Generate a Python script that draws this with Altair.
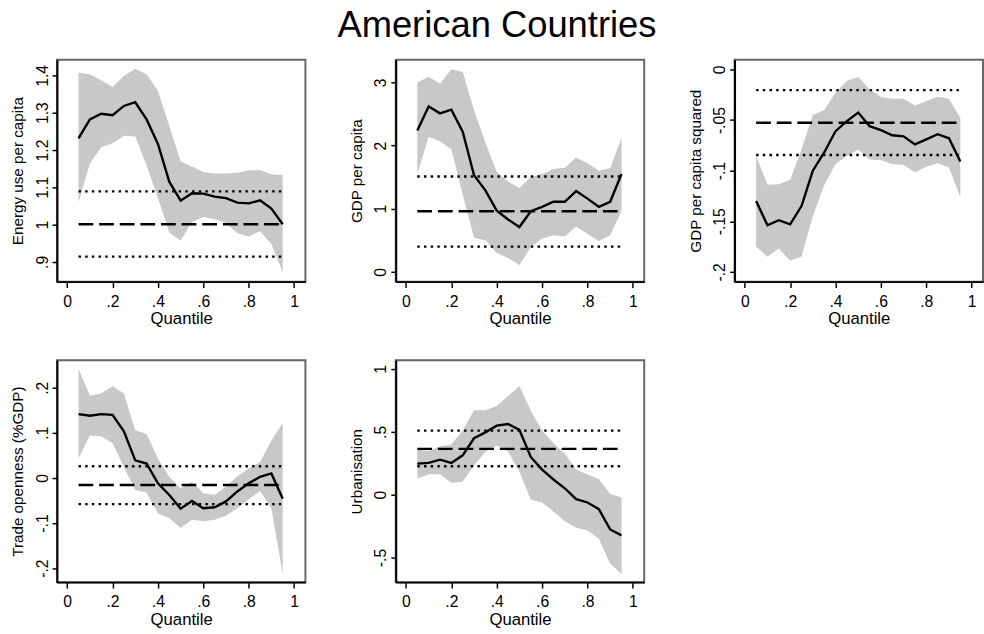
import altair as alt
import pandas as pd

quantiles = [0.05, 0.10, 0.15, 0.20, 0.25, 0.30, 0.35, 0.40, 0.45, 0.50,
             0.55, 0.60, 0.65, 0.70, 0.75, 0.80, 0.85, 0.90, 0.95]

# Panel 1: Energy use per capita
energy_coef = [1.231, 1.282, 1.297, 1.293, 1.318, 1.328, 1.282, 1.216, 1.115, 1.064,
               1.084, 1.083, 1.075, 1.071, 1.059, 1.057, 1.065, 1.043, 1.001]
energy_hi = [1.407, 1.403, 1.387, 1.369, 1.398, 1.418, 1.403, 1.358, 1.264, 1.169,
             1.156, 1.141, 1.137, 1.137, 1.139, 1.145, 1.146, 1.135, 1.132]
energy_lo = [1.060, 1.163, 1.207, 1.218, 1.238, 1.236, 1.159, 1.071, 0.979, 0.957,
             1.007, 1.020, 1.014, 1.005, 0.977, 0.968, 0.982, 0.948, 0.872]
energy_ols = [1.001, 0.914, 1.089]

# Panel 2: GDP per capita
gdp_coef = [2.24, 2.62, 2.51, 2.57, 2.22, 1.53, 1.29, 0.97, 0.83, 0.71,
            0.96, 1.03, 1.11, 1.11, 1.28, 1.16, 1.03, 1.11, 1.55]
gdp_hi = [3.00, 3.09, 2.98, 3.21, 3.17, 2.56, 2.05, 1.58, 1.43, 1.33,
          1.50, 1.55, 1.63, 1.65, 1.81, 1.72, 1.60, 1.64, 2.12]
gdp_lo = [1.55, 2.14, 2.07, 1.94, 1.22, 0.54, 0.50, 0.30, 0.22, 0.11,
          0.39, 0.53, 0.58, 0.56, 0.72, 0.60, 0.49, 0.58, 0.96]
gdp_ols = [0.960, 0.40, 1.51]

# Panel 3: GDP per capita squared
gdp2_coef = [-0.130, -0.154, -0.149, -0.153, -0.135, -0.100, -0.082, -0.061, -0.051, -0.0426,
             -0.056, -0.060, -0.065, -0.066, -0.074, -0.069, -0.064, -0.068, -0.091]
gdp2_hi = [-0.085, -0.114, -0.1135, -0.109, -0.079, -0.045, -0.040, -0.0226, -0.0113, -0.0074,
           -0.0194, -0.027, -0.029, -0.029, -0.0355, -0.031, -0.027, -0.029, -0.048]
gdp2_lo = [-0.175, -0.185, -0.177, -0.189, -0.185, -0.145, -0.1145, -0.0935, -0.0855, -0.079,
           -0.089, -0.0897, -0.0935, -0.0945, -0.1016, -0.096, -0.0926, -0.0968, -0.126]
gdp2_ols = [-0.0526, -0.0845, -0.0203]

# Panel 4: Trade openness (%GDP)
trade_coef = [0.1415, 0.138, 0.1415, 0.140, 0.1035, 0.039, 0.032, -0.012, -0.0377, -0.068,
              -0.051, -0.067, -0.065, -0.052, -0.030, -0.012, 0.0026, 0.0099, -0.046]
trade_hi = [0.242, 0.182, 0.187, 0.204, 0.187, 0.106, 0.0976, 0.043, 0.0026, -0.023,
            -0.0084, -0.034, -0.0377, -0.019, 0.004, 0.021, 0.0355, 0.083, 0.122]
trade_lo = [0.043, 0.094, 0.0925, 0.077, 0.0245, -0.0267, -0.0325, -0.079, -0.0889, -0.111,
            -0.0925, -0.096, -0.0925, -0.084, -0.067, -0.047, -0.029, -0.067, -0.213]
trade_ols = [-0.0157, -0.058, 0.026]

# Panel 5: Urbanisation
urb_coef = [0.247, 0.253, 0.279, 0.253, 0.313, 0.449, 0.496, 0.549, 0.562, 0.515,
            0.300, 0.200, 0.121, 0.051, -0.036, -0.062, -0.115, -0.277, -0.324]
urb_hi = [0.357, 0.347, 0.386, 0.399, 0.510, 0.672, 0.672, 0.706, 0.785, 0.864,
          0.667, 0.510, 0.410, 0.326, 0.200, 0.161, 0.124, 0.006, -0.020]
urb_lo = [0.129, 0.163, 0.163, 0.095, 0.103, 0.234, 0.339, 0.392, 0.344, 0.182,
          -0.041, -0.062, -0.133, -0.212, -0.264, -0.285, -0.351, -0.547, -0.631]
urb_ols = [0.365, 0.226, 0.510]

x_ticks = [0, 0.2, 0.4, 0.6, 0.8, 1]
x_labels = ["0", ".2", ".4", ".6", ".8", "1"]

FONT = "Liberation Sans"
W, H = 253, 226
X_DOMAIN = [-0.045, 1.05]


def label_expr(values, labels):
    vals = ",".join(repr(v) for v in values)
    labs = ",".join("'" + l + "'" for l in labels)
    return f"[{labs}][indexof([{vals}], datum.value)]"


def panel(title, coef, lo, hi, ols, y_domain, y_ticks, y_labels):
    df = pd.DataFrame({"q": quantiles, "coef": coef, "lo": lo, "hi": hi})
    xenc = alt.X("q:Q", scale=alt.Scale(domain=X_DOMAIN, nice=False, zero=False),
                 axis=alt.Axis(values=x_ticks, labelExpr=label_expr(x_ticks, x_labels),
                               title="Quantile", grid=False))
    yscale = alt.Scale(domain=y_domain, nice=False, zero=False)
    yaxis = alt.Axis(values=y_ticks, labelExpr=label_expr(y_ticks, y_labels),
                     title=title, grid=False, labelAngle=270)
    band = alt.Chart(df).mark_area(color="#c8c8c8", opacity=1).encode(
        x=xenc, y=alt.Y("lo:Q", scale=yscale, axis=yaxis), y2="hi:Q")
    line = alt.Chart(df).mark_line(color="black", strokeWidth=2.4).encode(
        x=xenc, y=alt.Y("coef:Q", scale=yscale, axis=yaxis))
    ols_df = pd.DataFrame({"x0": [quantiles[0]] * 3, "x1": [quantiles[-1]] * 3,
                           "y": ols, "kind": ["est", "ci", "ci"]})
    dashed = alt.Chart(ols_df[ols_df.kind == "est"]).mark_rule(
        color="black", strokeWidth=2.4, strokeDash=[15, 6], strokeCap="butt").encode(
        x=alt.X("x0:Q", scale=alt.Scale(domain=X_DOMAIN, nice=False, zero=False)), x2="x1:Q",
        y=alt.Y("y:Q", scale=yscale))
    dotted = alt.Chart(ols_df[ols_df.kind == "ci"]).mark_rule(
        color="black", strokeWidth=2.4, strokeDash=[2.5, 4.3], strokeCap="butt").encode(
        x=alt.X("x0:Q", scale=alt.Scale(domain=X_DOMAIN, nice=False, zero=False)), x2="x1:Q",
        y=alt.Y("y:Q", scale=yscale))
    return alt.layer(band, dotted, dashed, line).properties(width=W, height=H)


p1 = panel("Energy use per capita", energy_coef, energy_lo, energy_hi, energy_ols,
           [0.847, 1.442], [0.9, 1, 1.1, 1.2, 1.3, 1.4], [".9", "1", "1.1", "1.2", "1.3", "1.4"])
p2 = panel("GDP per capita", gdp_coef, gdp_lo, gdp_hi, gdp_ols,
           [-0.155, 3.36], [0, 1, 2, 3], ["0", "1", "2", "3"])
p3 = panel("GDP per capita squared", gdp2_coef, gdp2_lo, gdp2_hi, gdp2_ols,
           [-0.2097, 0.0097], [-0.2, -0.15, -0.1, -0.05, 0], ["-.2", "-.15", "-.1", "-.05", "0"])
p4 = panel("Trade openness (%GDP)", trade_coef, trade_lo, trade_hi, trade_ols,
           [-0.231, 0.261], [-0.2, -0.1, 0, 0.1, 0.2], ["-.2", "-.1", "0", ".1", ".2"])
p5 = panel("Urbanisation", urb_coef, urb_lo, urb_hi, urb_ols,
           [-0.696, 1.07], [-0.5, 0, 0.5, 1], ["-.5", "0", ".5", "1"])

chart = alt.concat(p1, p2, p3, p4, p5, columns=3, spacing={"row": 32, "column": 43}).properties(
    title=alt.TitleParams("American Countries", fontSize=37, font=FONT, fontWeight="normal",
                          anchor="middle", color="black", offset=14),
    padding={"left": 10, "top": 2, "right": 0, "bottom": 0},
    background="white",
).configure_view(stroke="#666666", strokeWidth=2).configure_axis(
    labelFont=FONT, titleFont=FONT, labelColor="black", titleColor="black",
    domainColor="black", domainWidth=2, tickColor="black", tickWidth=1.5,
    titleFontWeight="normal",
).configure_axisX(
    labelFontSize=16, titleFontSize=17, tickSize=6, labelPadding=6,
    minExtent=28, maxExtent=28, titlePadding=2,
).configure_axisY(
    labelFontSize=16, titleFontSize=15.5, tickSize=5, labelPadding=2,
    minExtent=27, maxExtent=27, titlePadding=5,
)

chart.save("out.html", embed_options={"renderer": "svg", "actions": False})
